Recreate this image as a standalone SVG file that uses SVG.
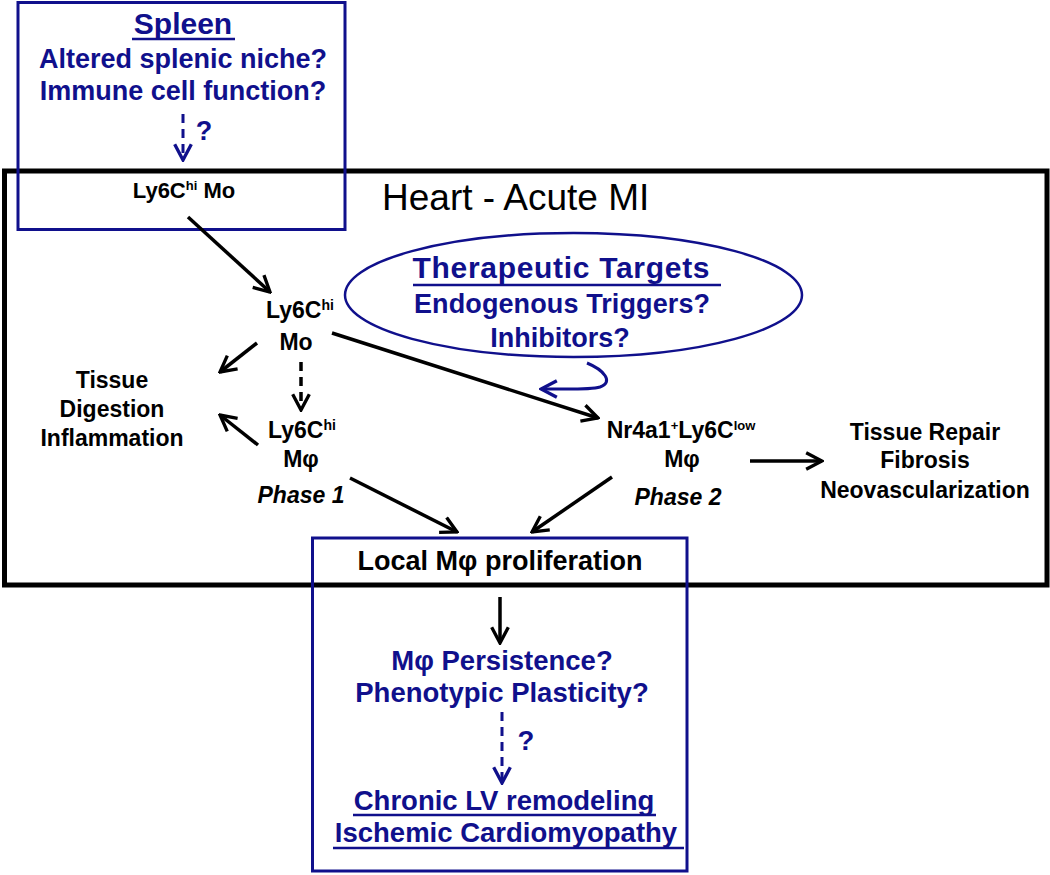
<svg xmlns="http://www.w3.org/2000/svg" width="1050" height="875" viewBox="0 0 1050 875">
<defs>
<style>
.t{font-family:"Liberation Sans",Arial,sans-serif;font-weight:bold;fill:#000;text-anchor:middle}
.b{fill:#10108c}
.bl{stroke:#10108c;fill:none}
.k{stroke:#000;fill:none;stroke-width:3.5}
.u{stroke:#10108c;stroke-width:2.5}
</style>
<marker id="ak" viewBox="0 0 12 12" refX="11" refY="6" markerWidth="20" markerHeight="20" markerUnits="userSpaceOnUse" orient="auto"><path d="M1.5,1 L11,6 L1.5,11" fill="none" stroke="#000" stroke-width="2"/></marker>
<marker id="ab" viewBox="0 0 12 12" refX="11" refY="6" markerWidth="20" markerHeight="20" markerUnits="userSpaceOnUse" orient="auto"><path d="M1.5,1 L11,6 L1.5,11" fill="none" stroke="#10108c" stroke-width="2"/></marker>
</defs>
<rect width="1050" height="875" fill="#fff"/>

<g id="heart">
<rect x="4.5" y="171" width="1042.5" height="414" fill="none" stroke="#000" stroke-width="5"/>
<text x="382" y="210" font-family="Liberation Sans, Arial, sans-serif" font-size="37">Heart - Acute MI</text>
</g>

<g id="spleen">
<rect x="18" y="2.5" width="327" height="227" class="bl" stroke-width="3"/>
<text class="t b" x="183" y="34" font-size="30">Spleen</text>
<line class="u" x1="132" y1="39" x2="235" y2="39"/>
<text class="t b" x="183" y="68" font-size="27">Altered splenic niche?</text>
<text class="t b" x="183" y="100" font-size="27">Immune cell function?</text>
<text class="t b" x="204" y="140" font-size="27">?</text>
</g>

<g id="ly6c-mo-spleen">
<text class="t" x="184" y="198" font-size="22">Ly6C<tspan font-size="13" dy="-8">hi</tspan><tspan dy="8"> Mo</tspan></text>
</g>

<g id="therapeutic">
<ellipse cx="573.5" cy="295" rx="228.5" ry="62" class="bl" stroke-width="2.5"/>
<text class="t b" x="561" y="278" font-size="30" textLength="297" lengthAdjust="spacing">Therapeutic Targets</text>
<line class="u" x1="413" y1="285" x2="721" y2="285"/>
<text class="t b" x="562" y="313" font-size="27" textLength="296" lengthAdjust="spacing">Endogenous Triggers?</text>
<text class="t b" x="560" y="347" font-size="27">Inhibitors?</text>
</g>

<g id="ly6c-mo">
<text class="t" x="300" y="318" font-size="23">Ly6C<tspan font-size="14" dy="-8">hi</tspan></text>
<text class="t" x="296" y="350" font-size="23">Mo</text>
</g>

<g id="tissue-digestion">
<text class="t" x="112" y="388" font-size="23">Tissue</text>
<text class="t" x="112" y="417" font-size="23">Digestion</text>
<text class="t" x="112" y="446" font-size="23">Inflammation</text>
</g>

<g id="ly6c-mphi">
<text class="t" x="302" y="438" font-size="23">Ly6C<tspan font-size="14" dy="-8">hi</tspan></text>
<text class="t" x="301" y="467" font-size="23">Mφ</text>
<text class="t" x="301" y="503" font-size="23" font-style="italic">Phase 1</text>
</g>

<g id="nr4a1-mphi">
<text class="t" x="681" y="438" font-size="23">Nr4a1<tspan font-size="13" dy="-8">+</tspan><tspan dy="8">Ly6C</tspan><tspan font-size="13" dy="-8">low</tspan></text>
<text class="t" x="682" y="467" font-size="23">Mφ</text>
<text class="t" x="678" y="505" font-size="23" font-style="italic">Phase 2</text>
</g>

<g id="tissue-repair">
<text class="t" x="925" y="440" font-size="23">Tissue Repair</text>
<text class="t" x="925" y="468" font-size="23">Fibrosis</text>
<text class="t" x="925" y="498" font-size="23">Neovascularization</text>
</g>

<g id="local">
<rect x="312.5" y="538" width="374.5" height="333" class="bl" stroke-width="3"/>
<text class="t" x="500" y="570" font-size="27">Local Mφ proliferation</text>
<text class="t b" x="502" y="670" font-size="27.5">Mφ Persistence?</text>
<text class="t b" x="502" y="702" font-size="27.5">Phenotypic Plasticity?</text>
<text class="t b" x="526" y="750" font-size="27.5">?</text>
<text class="t b" x="504" y="810" font-size="27.5">Chronic LV remodeling</text>
<line class="u" x1="353" y1="815" x2="656" y2="815"/>
<text class="t b" x="506" y="842" font-size="27.5">Ischemic Cardiomyopathy</text>
<line class="u" x1="333" y1="848" x2="684" y2="848"/>
</g>

<g id="connectors">
<line x1="183" y1="114" x2="183" y2="160" class="bl" stroke-width="3" stroke-dasharray="9,6" marker-end="url(#ab)"/>
<line x1="188" y1="217" x2="270" y2="292" class="k" marker-end="url(#ak)"/>
<line x1="257" y1="343" x2="220" y2="372" class="k" marker-end="url(#ak)"/>
<line x1="301" y1="362" x2="301" y2="410" class="k" stroke-dasharray="9,6" marker-end="url(#ak)"/>
<line x1="258" y1="445" x2="220" y2="415" class="k" marker-end="url(#ak)"/>
<line x1="332" y1="333" x2="598" y2="418" class="k" marker-end="url(#ak)"/>
<path d="M587,363 C604,370 614,382 600,387 C590,390 570,389 541,389" class="bl" stroke-width="3" marker-end="url(#ab)"/>
<line x1="750" y1="461" x2="822" y2="461" class="k" stroke-width="4.5" marker-end="url(#ak)"/>
<line x1="350" y1="478" x2="457" y2="532" class="k" marker-end="url(#ak)"/>
<line x1="612" y1="477" x2="532" y2="532" class="k" marker-end="url(#ak)"/>
<line x1="500" y1="597" x2="500" y2="643" class="k" marker-end="url(#ak)"/>
<line x1="502" y1="712" x2="502" y2="783" class="bl" stroke-width="3" stroke-dasharray="9,6" marker-end="url(#ab)"/>
</g>
</svg>
